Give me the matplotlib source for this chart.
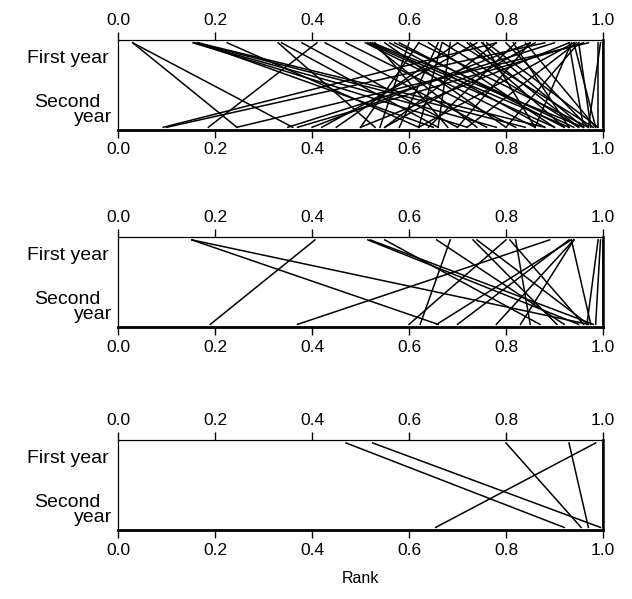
import matplotlib.pyplot as plt
import numpy as np

plt.rcParams['font.family'] = ['Liberation Sans', 'DejaVu Sans']

# rank in first year (top) -> rank in second year (bottom), one line per pair
first_a = [0.03, 0.03, 0.155, 0.155, 0.16, 0.165, 0.225, 0.78, 0.88, 0.41,
           0.97, 0.337, 0.379, 0.427, 0.47, 0.51, 0.515, 0.52, 0.525, 0.55,
           0.56, 0.57, 0.90, 0.96, 0.668, 0.685, 0.726, 0.753, 0.78, 0.80,
           0.815, 0.82, 0.84, 0.85, 0.93, 0.94, 0.945, 0.95, 0.935, 0.94,
           0.95, 0.93, 0.99, 1.0, 0.995, 0.66, 0.70, 0.62,
           0.52, 0.53, 0.58, 0.62, 0.64, 0.67, 0.70, 0.72, 0.75, 0.76,
           0.85, 0.86, 0.74, 0.60, 0.165, 0.33]
second_a = [0.245, 0.36, 0.72, 0.78, 0.84, 0.88, 0.62, 0.093, 0.10, 0.186,
            0.245, 0.66, 0.70, 0.76, 0.82, 0.86, 0.90, 0.93, 0.96, 0.80,
            0.88, 0.94, 0.35, 0.37, 0.62, 0.66, 0.95, 0.86, 0.55, 0.97,
            0.93, 0.64, 0.985, 0.70, 0.50, 0.62, 0.72, 0.80, 0.86, 0.985,
            0.975, 0.96, 0.99, 1.0, 0.97, 0.58, 0.45, 0.50,
            0.74, 0.68, 0.92, 0.97, 0.90, 0.95, 0.98, 0.92, 0.96, 0.99,
            0.40, 0.55, 0.42, 0.54, 0.65, 0.53]

first_b = [0.152, 0.152, 0.406, 0.89, 0.515, 0.52, 0.657, 0.685, 0.732, 0.808,
           0.82, 0.935, 0.94, 0.94, 0.93, 0.935, 0.99, 1.0, 0.995,
           0.55, 0.74, 0.80]
second_b = [0.97, 0.66, 0.19, 0.37, 0.95, 0.98, 0.92, 0.623, 0.905, 0.96,
            0.85, 0.657, 0.78, 0.83, 0.70, 0.975, 0.967, 1.0, 0.985,
            0.87, 0.97, 0.60]

first_c = [0.47, 0.525, 0.80, 0.93, 0.985, 1.0]
second_c = [0.92, 0.995, 0.955, 0.97, 0.655, 1.0]

panels = [(first_a, second_a), (first_b, second_b), (first_c, second_c)]
bottoms = [0.783, 0.454, 0.115]

fig = plt.figure(figsize=(6.32, 5.99), dpi=100)
ticks = np.arange(0, 1.01, 0.2)

for (f, s), b in zip(panels, bottoms):
    ax = fig.add_axes([0.187, b, 0.767, 0.150])
    for x1, x2 in zip(f, s):
        ax.plot([x1, x2], [0.97, 0.03], color='black', lw=1.1)
    ax.set_xlim(0, 1)
    ax.set_ylim(0, 1)
    ax.set_yticks([])
    ax.set_xticks(ticks)
    ax.set_xticklabels(['%.1f' % t for t in ticks])
    ax.tick_params(axis='x', top=True, labeltop=True, direction='out',
                   length=6, width=1, labelsize=12.5, pad=3)
    ax.spines['bottom'].set_linewidth(2)
    ax.spines['right'].set_linewidth(1.8)
    ax.spines['left'].set_linewidth(0.9)
    ax.spines['top'].set_linewidth(0.9)
    ax.text(-0.02, 0.8, 'First year', transform=ax.transAxes, ha='right',
            va='center', fontsize=14)
    ax.text(-0.037, 0.31, 'Second', transform=ax.transAxes, ha='right',
            va='center', fontsize=14)
    ax.text(-0.012, 0.14, 'year', transform=ax.transAxes, ha='right',
            va='center', fontsize=14)

fig.text(0.57, 0.035, 'Rank', ha='center', va='center', fontsize=11.5)

fig.savefig('out.png', dpi=100)
